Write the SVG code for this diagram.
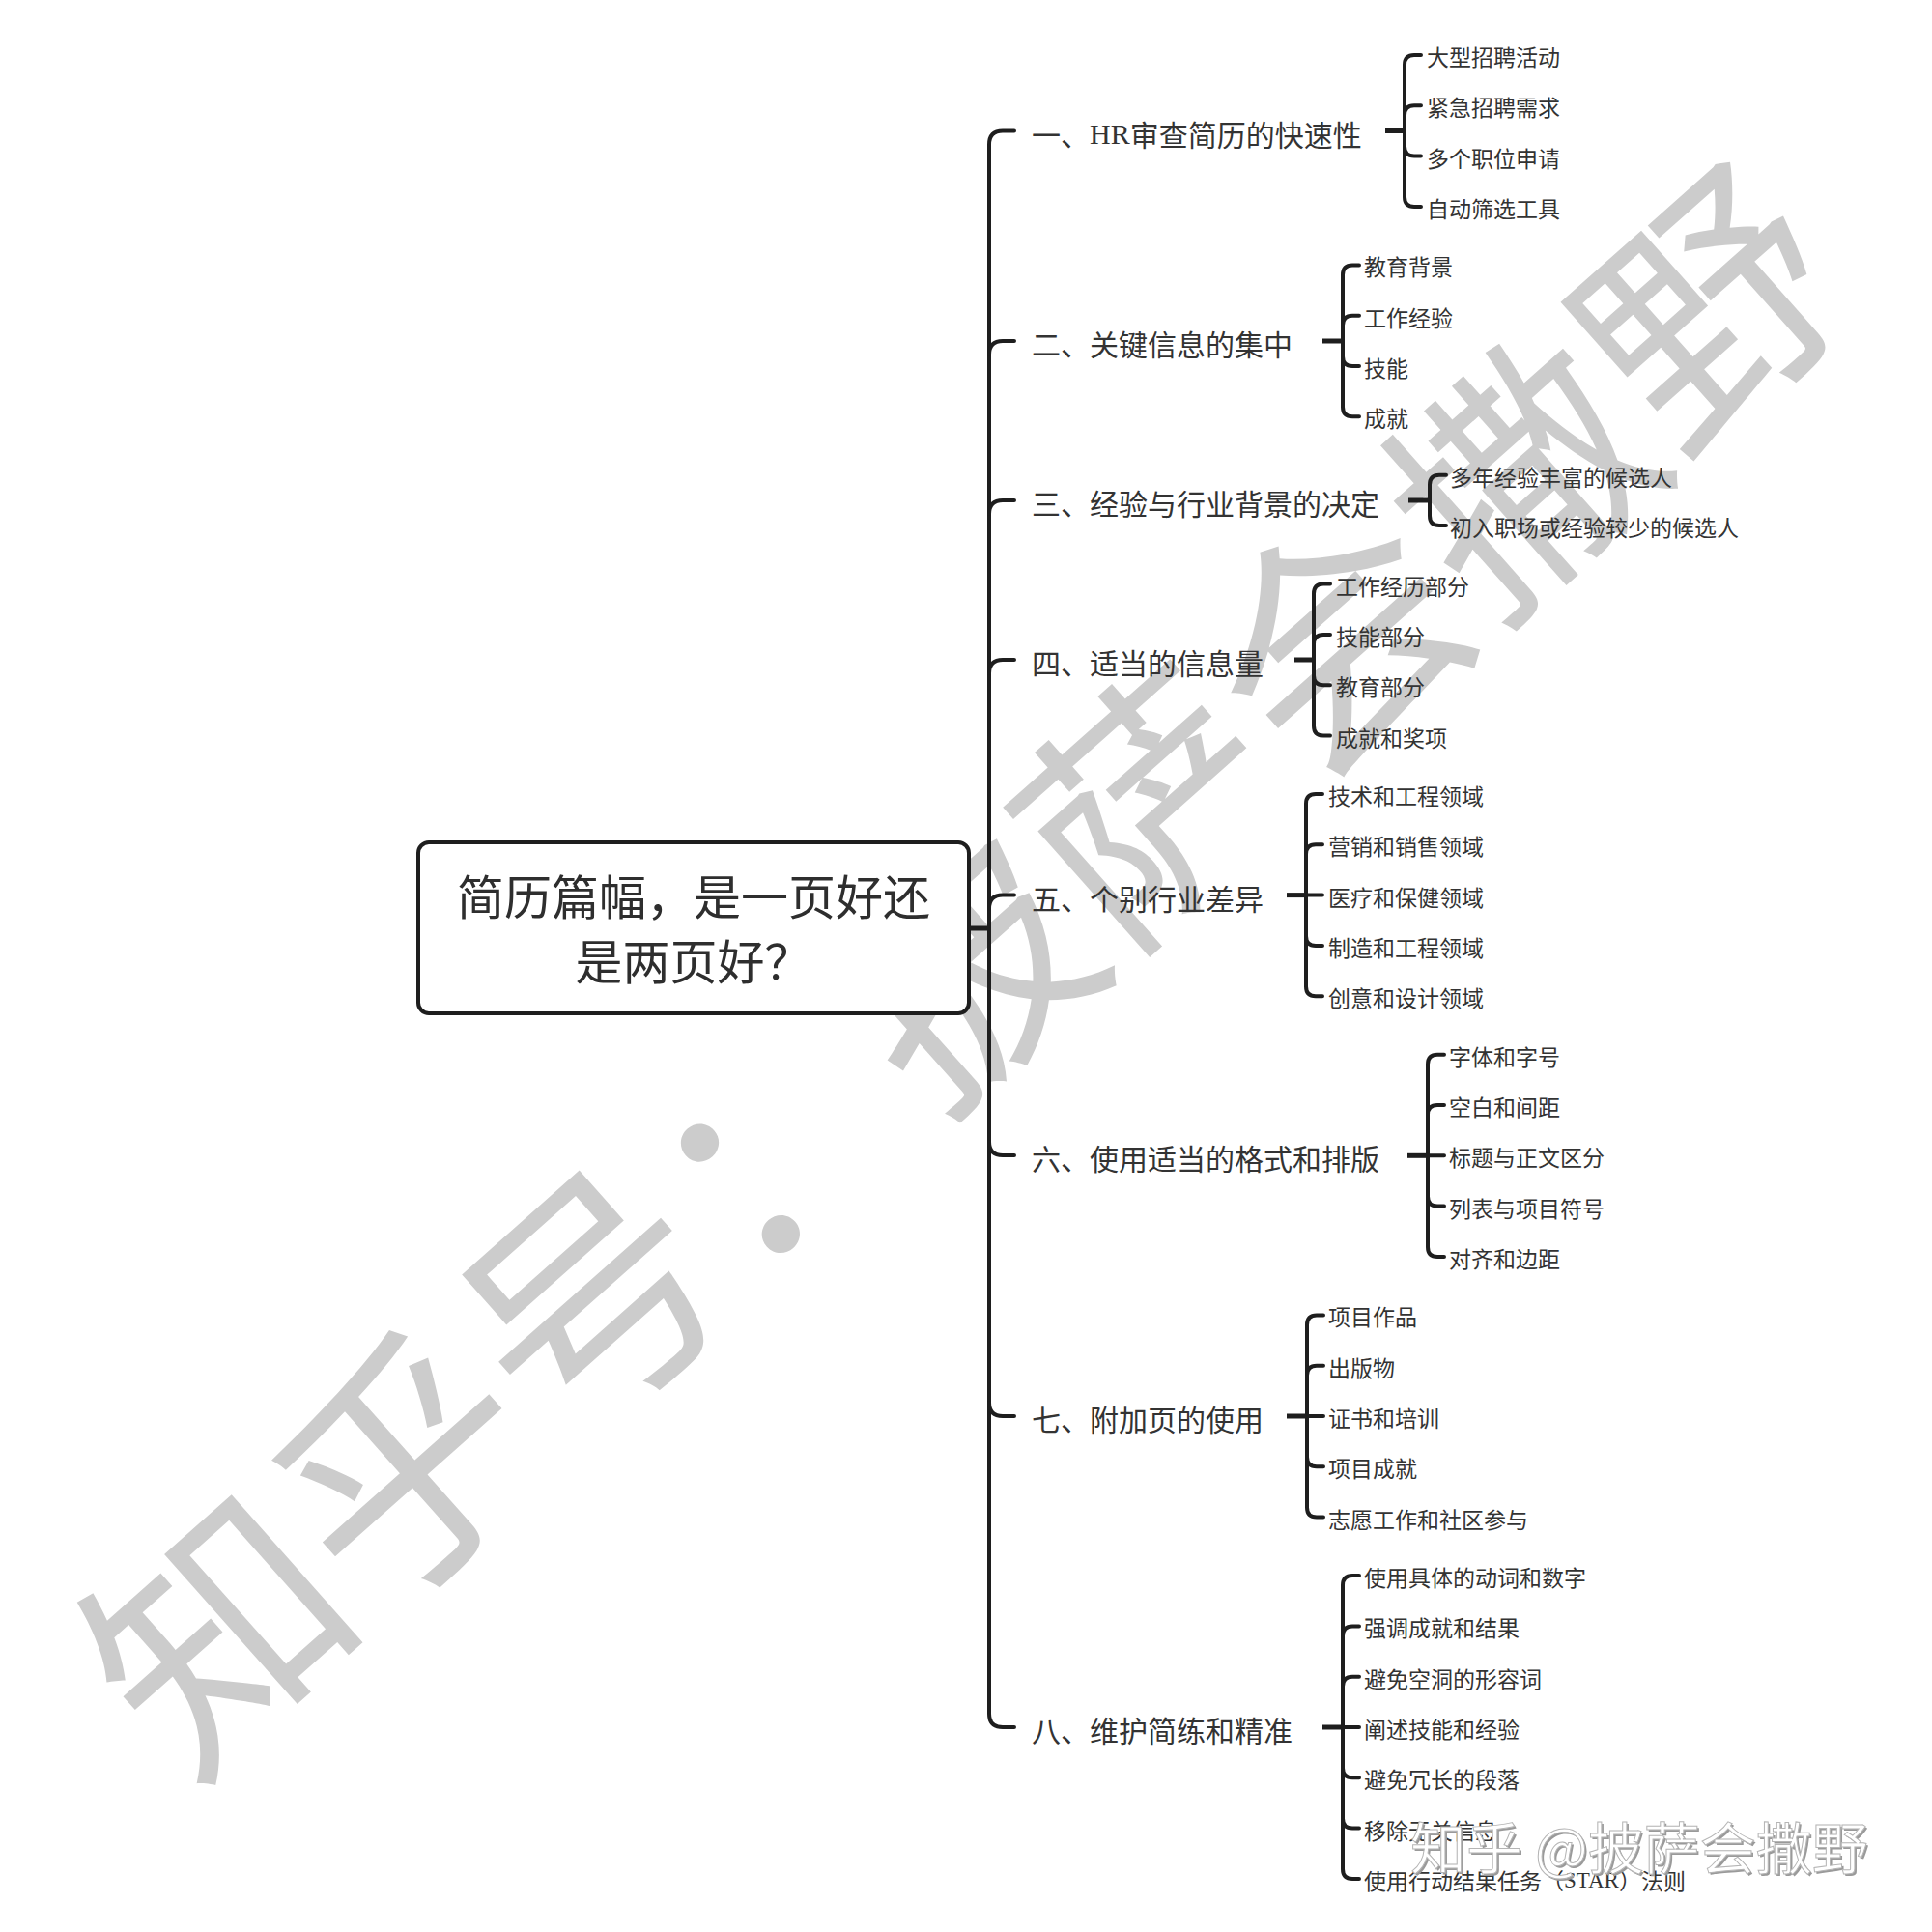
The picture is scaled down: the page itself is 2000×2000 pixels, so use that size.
<svg xmlns="http://www.w3.org/2000/svg" width="2000" height="2000" viewBox="0 0 2000 2000">
<style>
text{font-family:"Noto Sans CJK SC","Noto Sans",sans-serif;}
.wm{fill:#cccccc;font-size:258px;}
.root{fill:#2e2e2e;font-size:49px;}
.main{fill:#333333;font-size:30px;dominant-baseline:central;}
.sub{fill:#333333;font-size:23px;dominant-baseline:central;}
.serif{font-family:"Liberation Serif",serif;}
.ln{fill:none;stroke:#1e1e1e;stroke-width:4;stroke-linecap:round;}
.stub{fill:none;stroke:#1e1e1e;stroke-width:5;}
.box{fill:#ffffff;stroke:#1e1e1e;stroke-width:4;}
.wm2{font-size:58px;}
</style>
<rect x="0" y="0" width="2000" height="2000" fill="#ffffff"/>
<g id="watermark-diagonal">
<text class="wm" x="987" y="993" transform="rotate(-41.6 987 993)" text-anchor="middle" dominant-baseline="central">知乎号：披萨会撒野</text>
</g>
<g id="connectors">
<path class="stub" d="M1003,961 H1024"/>
<path class="ln" d="M1050,135.5 H1038 Q1024,135.5 1024,149.5 V1774 Q1024,1788 1038,1788 H1050"/>
<path class="ln" d="M1024,367 Q1024,353 1038,353 H1050"/>
<path class="ln" d="M1024,532 Q1024,518 1038,518 H1050"/>
<path class="ln" d="M1024,697 Q1024,683 1038,683 H1050"/>
<path class="ln" d="M1024,940.5 Q1024,926.5 1038,926.5 H1050"/>
<path class="ln" d="M1024,1182 Q1024,1196 1038,1196 H1050"/>
<path class="ln" d="M1024,1452 Q1024,1466 1038,1466 H1050"/>
<!-- group 1 -->
<path class="stub" d="M1434,135.5 H1454"/>
<path class="ln" d="M1454,135.5 V67 Q1454,57 1464,57 H1471 M1454,135.5 V119.3 Q1454,109.3 1464,109.3 H1471 M1454,135.5 V151.6 Q1454,161.6 1464,161.6 H1471 M1454,135.5 V203.9 Q1454,213.9 1464,213.9 H1471"/>
<!-- group 2 -->
<path class="stub" d="M1369,353 H1390"/>
<path class="ln" d="M1390,353 V284.4 Q1390,274.4 1400,274.4 H1407 M1390,353 V336.7 Q1390,326.7 1400,326.7 H1407 M1390,353 V369 Q1390,379 1400,379 H1407 M1390,353 V421.3 Q1390,431.3 1400,431.3 H1407"/>
<!-- group 3 -->
<path class="stub" d="M1458,518 H1480"/>
<path class="ln" d="M1480,518 V501.8 Q1480,491.8 1490,491.8 H1497 M1480,518 V534.1 Q1480,544.1 1490,544.1 H1497"/>
<!-- group 4 -->
<path class="stub" d="M1340,683 H1360"/>
<path class="ln" d="M1360,683 V614.6 Q1360,604.6 1370,604.6 H1377 M1360,683 V666.9 Q1360,656.9 1370,656.9 H1377 M1360,683 V699.2 Q1360,709.2 1370,709.2 H1377 M1360,683 V751.5 Q1360,761.5 1370,761.5 H1377"/>
<!-- group 5 -->
<path class="stub" d="M1332,926.6 H1352"/>
<path class="ln" d="M1352,926.6 V832 Q1352,822 1362,822 H1369 M1352,926.6 V884.3 Q1352,874.3 1362,874.3 H1369 M1352,926.6 H1369 M1352,926.6 V968.9 Q1352,978.9 1362,978.9 H1369 M1352,926.6 V1021.2 Q1352,1031.2 1362,1031.2 H1369"/>
<!-- group 6 -->
<path class="stub" d="M1457,1196.3 H1478"/>
<path class="ln" d="M1478,1196.3 V1101.7 Q1478,1091.7 1488,1091.7 H1495 M1478,1196.3 V1154 Q1478,1144 1488,1144 H1495 M1478,1196.3 H1495 M1478,1196.3 V1238.6 Q1478,1248.6 1488,1248.6 H1495 M1478,1196.3 V1290.9 Q1478,1300.9 1488,1300.9 H1495"/>
<!-- group 7 -->
<path class="stub" d="M1332,1466 H1353"/>
<path class="ln" d="M1353,1466 V1371.4 Q1353,1361.4 1363,1361.4 H1370 M1353,1466 V1423.7 Q1353,1413.7 1363,1413.7 H1370 M1353,1466 H1370 M1353,1466 V1508.3 Q1353,1518.3 1363,1518.3 H1370 M1353,1466 V1560.6 Q1353,1570.6 1363,1570.6 H1370"/>
<!-- group 8 -->
<path class="stub" d="M1369,1788 H1390"/>
<path class="ln" d="M1390,1788 V1641.1 Q1390,1631.1 1400,1631.1 H1407 M1390,1788 V1693.4 Q1390,1683.4 1400,1683.4 H1407 M1390,1788 V1745.7 Q1390,1735.7 1400,1735.7 H1407 M1390,1788 H1407 M1390,1788 V1830.3 Q1390,1840.3 1400,1840.3 H1407 M1390,1788 V1882.6 Q1390,1892.6 1400,1892.6 H1407 M1390,1788 V1934.9 Q1390,1944.9 1400,1944.9 H1407"/>
</g>
<g id="root">
<rect class="box" x="433" y="872" width="570" height="177" rx="11" ry="11"/>
<text class="root" x="718" y="947" text-anchor="middle">简历篇幅，是一页好还</text>
<text class="root" x="718" y="1014" text-anchor="middle">是两页好？</text>
</g>
<g id="n1">
<text class="main" x="1068" y="138">一、<tspan class="serif">HR</tspan>审查简历的快速性</text>
<text class="sub" x="1477" y="58">大型招聘活动</text>
<text class="sub" x="1477" y="110.3">紧急招聘需求</text>
<text class="sub" x="1477" y="162.6">多个职位申请</text>
<text class="sub" x="1477" y="214.9">自动筛选工具</text>
</g>
<g id="n2">
<text class="main" x="1068" y="355">二、关键信息的集中</text>
<text class="sub" x="1412" y="275.4">教育背景</text>
<text class="sub" x="1412" y="327.7">工作经验</text>
<text class="sub" x="1412" y="380">技能</text>
<text class="sub" x="1412" y="432.3">成就</text>
</g>
<g id="n3">
<text class="main" x="1068" y="520">三、经验与行业背景的决定</text>
<text class="sub" x="1501" y="492.8">多年经验丰富的候选人</text>
<text class="sub" x="1501" y="545.1">初入职场或经验较少的候选人</text>
</g>
<g id="n4">
<text class="main" x="1068" y="685">四、适当的信息量</text>
<text class="sub" x="1383" y="605.6">工作经历部分</text>
<text class="sub" x="1383" y="657.9">技能部分</text>
<text class="sub" x="1383" y="710.2">教育部分</text>
<text class="sub" x="1383" y="762.5">成就和奖项</text>
</g>
<g id="n5">
<text class="main" x="1068" y="928.6">五、个别行业差异</text>
<text class="sub" x="1375" y="823">技术和工程领域</text>
<text class="sub" x="1375" y="875.3">营销和销售领域</text>
<text class="sub" x="1375" y="927.6">医疗和保健领域</text>
<text class="sub" x="1375" y="979.9">制造和工程领域</text>
<text class="sub" x="1375" y="1032.2">创意和设计领域</text>
</g>
<g id="n6">
<text class="main" x="1068" y="1198.3">六、使用适当的格式和排版</text>
<text class="sub" x="1500" y="1092.7">字体和字号</text>
<text class="sub" x="1500" y="1145">空白和间距</text>
<text class="sub" x="1500" y="1197.3">标题与正文区分</text>
<text class="sub" x="1500" y="1249.6">列表与项目符号</text>
<text class="sub" x="1500" y="1301.9">对齐和边距</text>
</g>
<g id="n7">
<text class="main" x="1068" y="1468">七、附加页的使用</text>
<text class="sub" x="1375" y="1362.4">项目作品</text>
<text class="sub" x="1375" y="1414.7">出版物</text>
<text class="sub" x="1375" y="1467">证书和培训</text>
<text class="sub" x="1375" y="1519.3">项目成就</text>
<text class="sub" x="1375" y="1571.6">志愿工作和社区参与</text>
</g>
<g id="n8">
<text class="main" x="1068" y="1790">八、维护简练和精准</text>
<text class="sub" x="1412" y="1632.1">使用具体的动词和数字</text>
<text class="sub" x="1412" y="1684.4">强调成就和结果</text>
<text class="sub" x="1412" y="1736.7">避免空洞的形容词</text>
<text class="sub" x="1412" y="1789">阐述技能和经验</text>
<text class="sub" x="1412" y="1841.3">避免冗长的段落</text>
<text class="sub" x="1412" y="1893.6">移除无关信息</text>
<text class="sub" x="1412" y="1945.9">使用行动结果任务（<tspan class="serif">STAR</tspan>）法则</text>
</g>
<g id="watermark-corner">
<text class="wm2" x="1462" y="1937" fill="#9a9a9a">知乎 @披萨会撒野</text>
<text class="wm2" x="1460" y="1935" fill="#ffffff" stroke="#b5b5b5" stroke-width="1">知乎 @披萨会撒野</text>
</g>
</svg>
